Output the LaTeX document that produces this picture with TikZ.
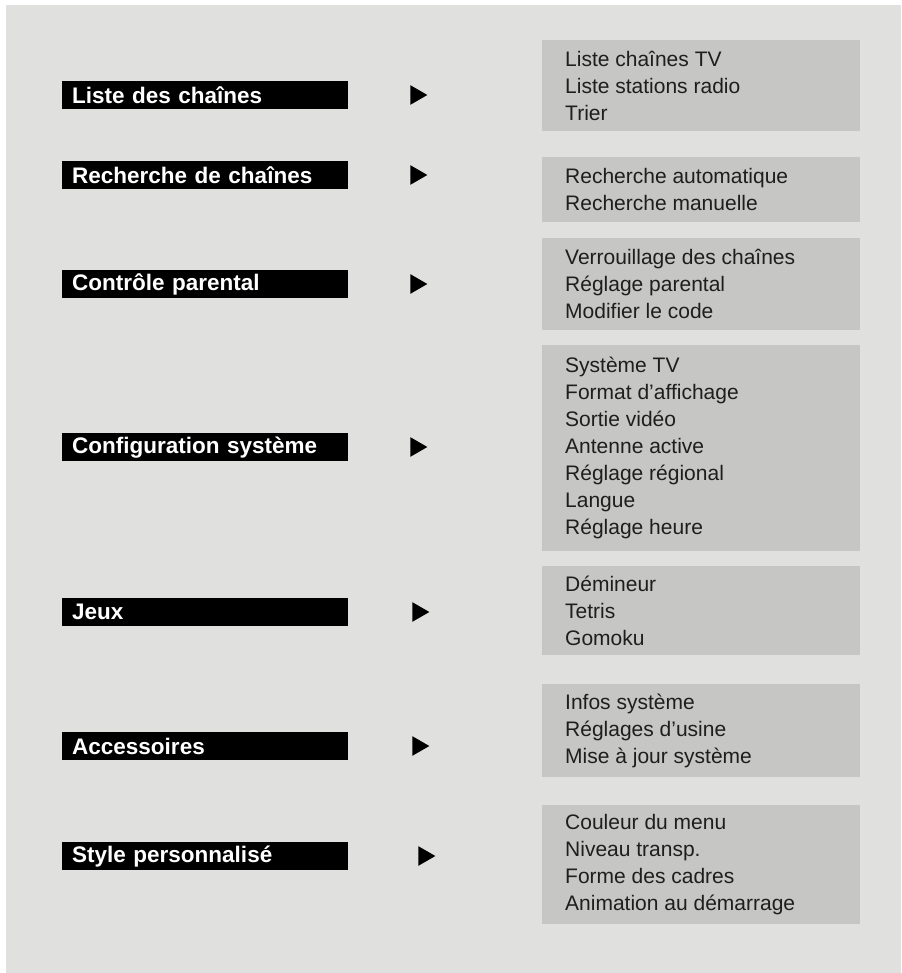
\documentclass[tikz,border=0pt]{standalone}
\usepackage{fontspec}
\setmainfont{Liberation Sans}
\usetikzlibrary{shapes.geometric}
\definecolor{bg}{HTML}{E0E0DE}
\definecolor{bx}{HTML}{C6C6C5}
\definecolor{tx}{HTML}{1E1E1E}
\tikzset{
 bar/.style={fill=black,text=white,font=\bfseries\fontsize{22.5}{24}\selectfont,anchor=north west,minimum height=28pt,text width=266pt,inner xsep=10pt,inner ysep=0pt},
 sub/.style={fill=bx,anchor=north west,minimum width=318pt,inner sep=0pt},
 subtxt/.style={anchor=west,align=left,text=tx,font=\fontsize{21}{27}\selectfont,inner sep=0pt},
 tri/.style={isosceles triangle,fill=black,inner sep=0pt,minimum width=14pt,minimum height=17pt,isosceles triangle apex angle=60}
}
\begin{document}
\begin{tikzpicture}[x=1pt,y=-1pt]
\useasboundingbox (0,0) rectangle (901,973);
\fill[white] (0,0) rectangle (901,973);
\fill[bg] (6,5) rectangle (901,973);
\def\row#1#2#3#4#5#6#7{%
 \node[bar] (b#1) at (62,#2) {#3};
 \node[tri] (t#1) at (#4,#2+14) {};
 \node[sub,minimum height=#6pt] (s#1) at (542,#5) {};
 \node[subtxt] (x#1) at (565,#5+#6/2) {#7};
}
\row{1}{81}{Liste des chaînes}{416}{40}{91}{Liste chaînes TV\\Liste stations radio\\Trier}
\row{2}{161}{Recherche de chaînes}{416}{157}{65}{Recherche automatique\\Recherche manuelle}
\row{3}{270}{Contrôle parental}{416}{238}{92}{Verrouillage des chaînes\\Réglage parental\\Modifier le code}
\row{4}{433}{Configuration système}{416}{345}{206}{Système TV\\Format d’affichage\\Sortie vidéo\\Antenne active\\Réglage régional\\Langue\\Réglage heure}
\row{5}{598}{Jeux}{418}{566}{89}{Démineur\\Tetris\\Gomoku}
\row{6}{732}{Accessoires}{418}{684}{93}{Infos système\\Réglages d’usine\\Mise à jour système}
\row{7}{842}{Style personnalisé}{424}{805}{119}{Couleur du menu\\Niveau transp.\\Forme des cadres\\Animation au démarrage}
\end{tikzpicture}
\end{document}
